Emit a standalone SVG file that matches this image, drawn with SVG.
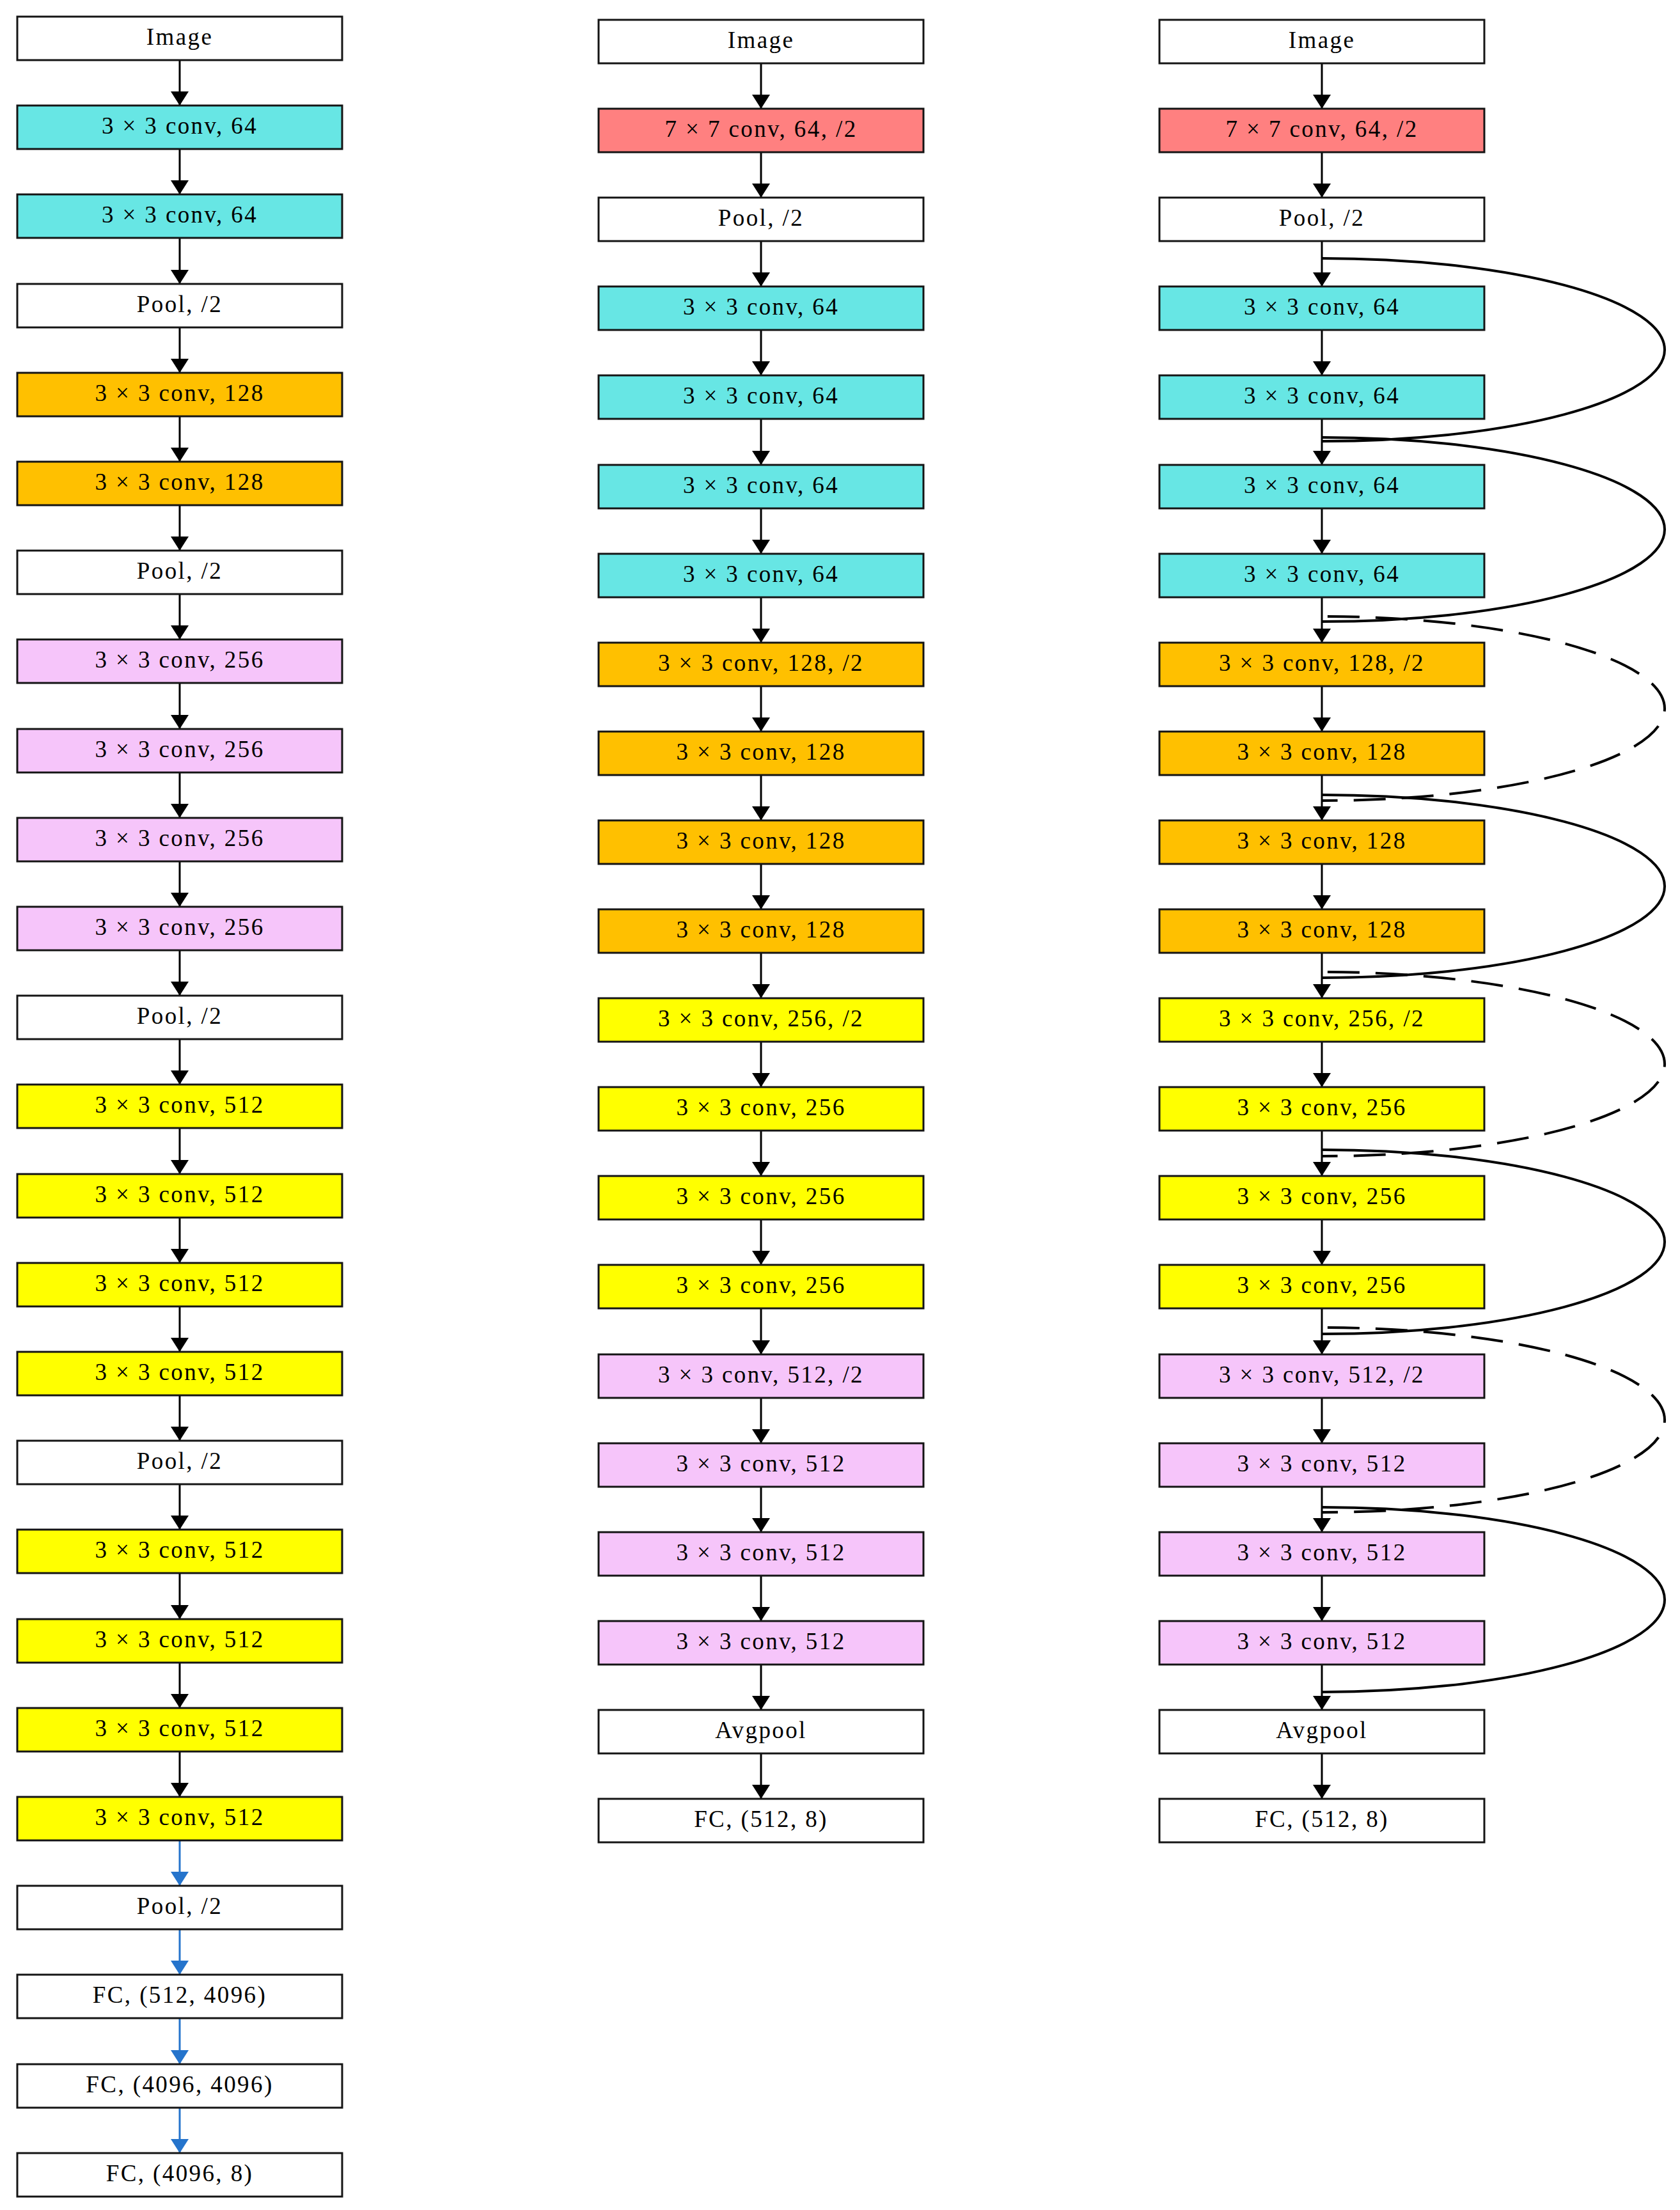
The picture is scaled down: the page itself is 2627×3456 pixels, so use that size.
<svg xmlns="http://www.w3.org/2000/svg" width="2627" height="3456" viewBox="0 0 2627 3456">
<style>
rect{stroke:#141414;stroke-width:3}
.w{fill:#ffffff}.c{fill:#67E6E4}.o{fill:#FFC000}.p{fill:#F6C5FA}.y{fill:#FFFF00}.r{fill:#FF8080}
text{font-family:"Liberation Serif","Times New Roman",serif;font-size:37px;letter-spacing:2.4px;text-anchor:middle;fill:#000}
.a{stroke:#000;stroke-width:3;fill:none;marker-end:url(#ah)}
.b{stroke:#2574CC;stroke-width:3;fill:none;marker-end:url(#bh)}
.s{stroke:#000;stroke-width:4;fill:none}
.d{stroke:#000;stroke-width:4;fill:none;stroke-dasharray:50 25;stroke-dashoffset:66}
</style>
<defs>
<marker id="ah" markerUnits="userSpaceOnUse" markerWidth="23" markerHeight="30" refX="22" refY="15" orient="auto" viewBox="0 0 23 30"><path d="M0,1 L22,15 L0,29 z" fill="#000"/></marker>
<marker id="bh" markerUnits="userSpaceOnUse" markerWidth="23" markerHeight="30" refX="22" refY="15" orient="auto" viewBox="0 0 23 30"><path d="M0,1 L22,15 L0,29 z" fill="#2574CC"/></marker>
</defs>
<rect x="0" y="0" width="2627" height="3456" fill="#fff" style="stroke:none"/>
<g id="connectors">
<line class="a" x1="281" y1="94" x2="281" y2="165"/>
<line class="a" x1="281" y1="233" x2="281" y2="304"/>
<line class="a" x1="281" y1="372" x2="281" y2="444"/>
<line class="a" x1="281" y1="512" x2="281" y2="583"/>
<line class="a" x1="281" y1="651" x2="281" y2="722"/>
<line class="a" x1="281" y1="790" x2="281" y2="861"/>
<line class="a" x1="281" y1="929" x2="281" y2="1000"/>
<line class="a" x1="281" y1="1068" x2="281" y2="1140"/>
<line class="a" x1="281" y1="1208" x2="281" y2="1279"/>
<line class="a" x1="281" y1="1347" x2="281" y2="1418"/>
<line class="a" x1="281" y1="1486" x2="281" y2="1557"/>
<line class="a" x1="281" y1="1625" x2="281" y2="1696"/>
<line class="a" x1="281" y1="1764" x2="281" y2="1836"/>
<line class="a" x1="281" y1="1904" x2="281" y2="1975"/>
<line class="a" x1="281" y1="2043" x2="281" y2="2114"/>
<line class="a" x1="281" y1="2182" x2="281" y2="2253"/>
<line class="a" x1="281" y1="2321" x2="281" y2="2392"/>
<line class="a" x1="281" y1="2460" x2="281" y2="2532"/>
<line class="a" x1="281" y1="2600" x2="281" y2="2671"/>
<line class="a" x1="281" y1="2739" x2="281" y2="2810"/>
<line class="b" x1="281" y1="2878" x2="281" y2="2949"/>
<line class="b" x1="281" y1="3017" x2="281" y2="3088"/>
<line class="b" x1="281" y1="3156" x2="281" y2="3228"/>
<line class="b" x1="281" y1="3296" x2="281" y2="3367"/>

<line class="a" x1="1190" y1="99" x2="1190" y2="170"/>
<line class="a" x1="1190" y1="238" x2="1190" y2="309"/>
<line class="a" x1="1190" y1="377" x2="1190" y2="448"/>
<line class="a" x1="1190" y1="516" x2="1190" y2="587"/>
<line class="a" x1="1190" y1="655" x2="1190" y2="727"/>
<line class="a" x1="1190" y1="795" x2="1190" y2="866"/>
<line class="a" x1="1190" y1="934" x2="1190" y2="1005"/>
<line class="a" x1="1190" y1="1073" x2="1190" y2="1144"/>
<line class="a" x1="1190" y1="1212" x2="1190" y2="1283"/>
<line class="a" x1="1190" y1="1351" x2="1190" y2="1422"/>
<line class="a" x1="1190" y1="1490" x2="1190" y2="1561"/>
<line class="a" x1="1190" y1="1629" x2="1190" y2="1700"/>
<line class="a" x1="1190" y1="1768" x2="1190" y2="1839"/>
<line class="a" x1="1190" y1="1907" x2="1190" y2="1978"/>
<line class="a" x1="1190" y1="2046" x2="1190" y2="2118"/>
<line class="a" x1="1190" y1="2186" x2="1190" y2="2257"/>
<line class="a" x1="1190" y1="2325" x2="1190" y2="2396"/>
<line class="a" x1="1190" y1="2464" x2="1190" y2="2535"/>
<line class="a" x1="1190" y1="2603" x2="1190" y2="2674"/>
<line class="a" x1="1190" y1="2742" x2="1190" y2="2813"/>

<line class="a" x1="2067" y1="99" x2="2067" y2="170"/>
<line class="a" x1="2067" y1="238" x2="2067" y2="309"/>
<line class="a" x1="2067" y1="377" x2="2067" y2="448"/>
<line class="a" x1="2067" y1="516" x2="2067" y2="587"/>
<line class="a" x1="2067" y1="655" x2="2067" y2="727"/>
<line class="a" x1="2067" y1="795" x2="2067" y2="866"/>
<line class="a" x1="2067" y1="934" x2="2067" y2="1005"/>
<line class="a" x1="2067" y1="1073" x2="2067" y2="1144"/>
<line class="a" x1="2067" y1="1212" x2="2067" y2="1283"/>
<line class="a" x1="2067" y1="1351" x2="2067" y2="1422"/>
<line class="a" x1="2067" y1="1490" x2="2067" y2="1561"/>
<line class="a" x1="2067" y1="1629" x2="2067" y2="1700"/>
<line class="a" x1="2067" y1="1768" x2="2067" y2="1839"/>
<line class="a" x1="2067" y1="1907" x2="2067" y2="1978"/>
<line class="a" x1="2067" y1="2046" x2="2067" y2="2118"/>
<line class="a" x1="2067" y1="2186" x2="2067" y2="2257"/>
<line class="a" x1="2067" y1="2325" x2="2067" y2="2396"/>
<line class="a" x1="2067" y1="2464" x2="2067" y2="2535"/>
<line class="a" x1="2067" y1="2603" x2="2067" y2="2674"/>
<line class="a" x1="2067" y1="2742" x2="2067" y2="2813"/>

<path class="s" d="M2067,404 A536,143 0 0 1 2067,690"/>
<path class="s" d="M2067,684 A536,144 0 0 1 2067,972"/>
<path class="d" d="M2067,964 A536,144 0 0 1 2067,1252"/>
<path class="s" d="M2067,1243 A536,143 0 0 1 2067,1529"/>
<path class="d" d="M2067,1520 A536,144 0 0 1 2067,1808"/>
<path class="s" d="M2067,1798 A536,144 0 0 1 2067,2086"/>
<path class="d" d="M2067,2076 A536,144.5 0 0 1 2067,2365"/>
<path class="s" d="M2067,2357 A536,144.5 0 0 1 2067,2646"/>
</g>

<g id="v0"><rect class="w" x="27" y="26" width="508" height="68"/><text x="281" y="70">Image</text></g>
<g id="v1"><rect class="c" x="27" y="165" width="508" height="68"/><text x="281" y="209">3 × 3 conv, 64</text></g>
<g id="v2"><rect class="c" x="27" y="304" width="508" height="68"/><text x="281" y="348">3 × 3 conv, 64</text></g>
<g id="v3"><rect class="w" x="27" y="444" width="508" height="68"/><text x="281" y="488">Pool, /2</text></g>
<g id="v4"><rect class="o" x="27" y="583" width="508" height="68"/><text x="281" y="627">3 × 3 conv, 128</text></g>
<g id="v5"><rect class="o" x="27" y="722" width="508" height="68"/><text x="281" y="766">3 × 3 conv, 128</text></g>
<g id="v6"><rect class="w" x="27" y="861" width="508" height="68"/><text x="281" y="905">Pool, /2</text></g>
<g id="v7"><rect class="p" x="27" y="1000" width="508" height="68"/><text x="281" y="1044">3 × 3 conv, 256</text></g>
<g id="v8"><rect class="p" x="27" y="1140" width="508" height="68"/><text x="281" y="1184">3 × 3 conv, 256</text></g>
<g id="v9"><rect class="p" x="27" y="1279" width="508" height="68"/><text x="281" y="1323">3 × 3 conv, 256</text></g>
<g id="v10"><rect class="p" x="27" y="1418" width="508" height="68"/><text x="281" y="1462">3 × 3 conv, 256</text></g>
<g id="v11"><rect class="w" x="27" y="1557" width="508" height="68"/><text x="281" y="1601">Pool, /2</text></g>
<g id="v12"><rect class="y" x="27" y="1696" width="508" height="68"/><text x="281" y="1740">3 × 3 conv, 512</text></g>
<g id="v13"><rect class="y" x="27" y="1836" width="508" height="68"/><text x="281" y="1880">3 × 3 conv, 512</text></g>
<g id="v14"><rect class="y" x="27" y="1975" width="508" height="68"/><text x="281" y="2019">3 × 3 conv, 512</text></g>
<g id="v15"><rect class="y" x="27" y="2114" width="508" height="68"/><text x="281" y="2158">3 × 3 conv, 512</text></g>
<g id="v16"><rect class="w" x="27" y="2253" width="508" height="68"/><text x="281" y="2297">Pool, /2</text></g>
<g id="v17"><rect class="y" x="27" y="2392" width="508" height="68"/><text x="281" y="2436">3 × 3 conv, 512</text></g>
<g id="v18"><rect class="y" x="27" y="2532" width="508" height="68"/><text x="281" y="2576">3 × 3 conv, 512</text></g>
<g id="v19"><rect class="y" x="27" y="2671" width="508" height="68"/><text x="281" y="2715">3 × 3 conv, 512</text></g>
<g id="v20"><rect class="y" x="27" y="2810" width="508" height="68"/><text x="281" y="2854">3 × 3 conv, 512</text></g>
<g id="v21"><rect class="w" x="27" y="2949" width="508" height="68"/><text x="281" y="2993">Pool, /2</text></g>
<g id="v22"><rect class="w" x="27" y="3088" width="508" height="68"/><text x="281" y="3132">FC, (512, 4096)</text></g>
<g id="v23"><rect class="w" x="27" y="3228" width="508" height="68"/><text x="281" y="3272">FC, (4096, 4096)</text></g>
<g id="v24"><rect class="w" x="27" y="3367" width="508" height="68"/><text x="281" y="3411">FC, (4096, 8)</text></g>

<g id="r0"><rect class="w" x="936" y="31" width="508" height="68"/><text x="1190" y="75">Image</text></g>
<g id="r1"><rect class="r" x="936" y="170" width="508" height="68"/><text x="1190" y="214">7 × 7 conv, 64, /2</text></g>
<g id="r2"><rect class="w" x="936" y="309" width="508" height="68"/><text x="1190" y="353">Pool, /2</text></g>
<g id="r3"><rect class="c" x="936" y="448" width="508" height="68"/><text x="1190" y="492">3 × 3 conv, 64</text></g>
<g id="r4"><rect class="c" x="936" y="587" width="508" height="68"/><text x="1190" y="631">3 × 3 conv, 64</text></g>
<g id="r5"><rect class="c" x="936" y="727" width="508" height="68"/><text x="1190" y="771">3 × 3 conv, 64</text></g>
<g id="r6"><rect class="c" x="936" y="866" width="508" height="68"/><text x="1190" y="910">3 × 3 conv, 64</text></g>
<g id="r7"><rect class="o" x="936" y="1005" width="508" height="68"/><text x="1190" y="1049">3 × 3 conv, 128, /2</text></g>
<g id="r8"><rect class="o" x="936" y="1144" width="508" height="68"/><text x="1190" y="1188">3 × 3 conv, 128</text></g>
<g id="r9"><rect class="o" x="936" y="1283" width="508" height="68"/><text x="1190" y="1327">3 × 3 conv, 128</text></g>
<g id="r10"><rect class="o" x="936" y="1422" width="508" height="68"/><text x="1190" y="1466">3 × 3 conv, 128</text></g>
<g id="r11"><rect class="y" x="936" y="1561" width="508" height="68"/><text x="1190" y="1605">3 × 3 conv, 256, /2</text></g>
<g id="r12"><rect class="y" x="936" y="1700" width="508" height="68"/><text x="1190" y="1744">3 × 3 conv, 256</text></g>
<g id="r13"><rect class="y" x="936" y="1839" width="508" height="68"/><text x="1190" y="1883">3 × 3 conv, 256</text></g>
<g id="r14"><rect class="y" x="936" y="1978" width="508" height="68"/><text x="1190" y="2022">3 × 3 conv, 256</text></g>
<g id="r15"><rect class="p" x="936" y="2118" width="508" height="68"/><text x="1190" y="2162">3 × 3 conv, 512, /2</text></g>
<g id="r16"><rect class="p" x="936" y="2257" width="508" height="68"/><text x="1190" y="2301">3 × 3 conv, 512</text></g>
<g id="r17"><rect class="p" x="936" y="2396" width="508" height="68"/><text x="1190" y="2440">3 × 3 conv, 512</text></g>
<g id="r18"><rect class="p" x="936" y="2535" width="508" height="68"/><text x="1190" y="2579">3 × 3 conv, 512</text></g>
<g id="r19"><rect class="w" x="936" y="2674" width="508" height="68"/><text x="1190" y="2718">Avgpool</text></g>
<g id="r20"><rect class="w" x="936" y="2813" width="508" height="68"/><text x="1190" y="2857">FC, (512, 8)</text></g>

<g id="s0"><rect class="w" x="1813" y="31" width="508" height="68"/><text x="2067" y="75">Image</text></g>
<g id="s1"><rect class="r" x="1813" y="170" width="508" height="68"/><text x="2067" y="214">7 × 7 conv, 64, /2</text></g>
<g id="s2"><rect class="w" x="1813" y="309" width="508" height="68"/><text x="2067" y="353">Pool, /2</text></g>
<g id="s3"><rect class="c" x="1813" y="448" width="508" height="68"/><text x="2067" y="492">3 × 3 conv, 64</text></g>
<g id="s4"><rect class="c" x="1813" y="587" width="508" height="68"/><text x="2067" y="631">3 × 3 conv, 64</text></g>
<g id="s5"><rect class="c" x="1813" y="727" width="508" height="68"/><text x="2067" y="771">3 × 3 conv, 64</text></g>
<g id="s6"><rect class="c" x="1813" y="866" width="508" height="68"/><text x="2067" y="910">3 × 3 conv, 64</text></g>
<g id="s7"><rect class="o" x="1813" y="1005" width="508" height="68"/><text x="2067" y="1049">3 × 3 conv, 128, /2</text></g>
<g id="s8"><rect class="o" x="1813" y="1144" width="508" height="68"/><text x="2067" y="1188">3 × 3 conv, 128</text></g>
<g id="s9"><rect class="o" x="1813" y="1283" width="508" height="68"/><text x="2067" y="1327">3 × 3 conv, 128</text></g>
<g id="s10"><rect class="o" x="1813" y="1422" width="508" height="68"/><text x="2067" y="1466">3 × 3 conv, 128</text></g>
<g id="s11"><rect class="y" x="1813" y="1561" width="508" height="68"/><text x="2067" y="1605">3 × 3 conv, 256, /2</text></g>
<g id="s12"><rect class="y" x="1813" y="1700" width="508" height="68"/><text x="2067" y="1744">3 × 3 conv, 256</text></g>
<g id="s13"><rect class="y" x="1813" y="1839" width="508" height="68"/><text x="2067" y="1883">3 × 3 conv, 256</text></g>
<g id="s14"><rect class="y" x="1813" y="1978" width="508" height="68"/><text x="2067" y="2022">3 × 3 conv, 256</text></g>
<g id="s15"><rect class="p" x="1813" y="2118" width="508" height="68"/><text x="2067" y="2162">3 × 3 conv, 512, /2</text></g>
<g id="s16"><rect class="p" x="1813" y="2257" width="508" height="68"/><text x="2067" y="2301">3 × 3 conv, 512</text></g>
<g id="s17"><rect class="p" x="1813" y="2396" width="508" height="68"/><text x="2067" y="2440">3 × 3 conv, 512</text></g>
<g id="s18"><rect class="p" x="1813" y="2535" width="508" height="68"/><text x="2067" y="2579">3 × 3 conv, 512</text></g>
<g id="s19"><rect class="w" x="1813" y="2674" width="508" height="68"/><text x="2067" y="2718">Avgpool</text></g>
<g id="s20"><rect class="w" x="1813" y="2813" width="508" height="68"/><text x="2067" y="2857">FC, (512, 8)</text></g>
</svg>
